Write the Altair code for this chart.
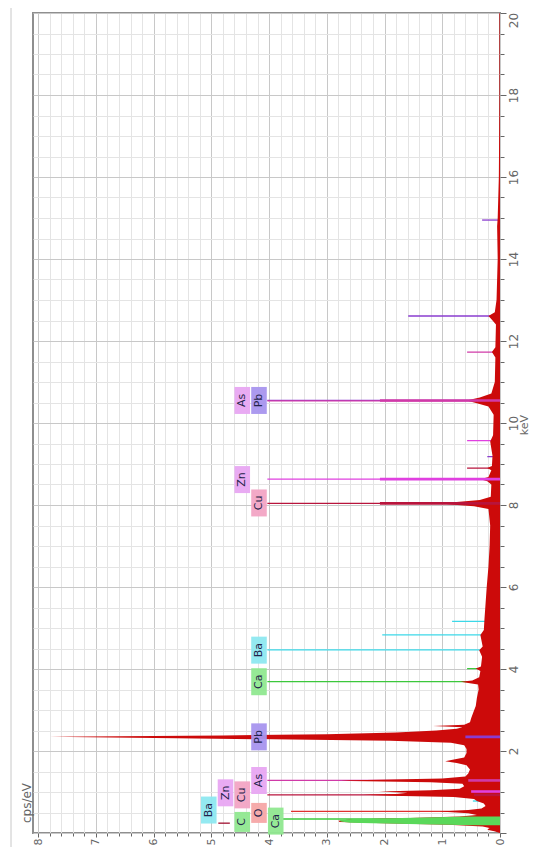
import altair as alt
import pandas as pd

# ---------------- data ----------------
# EDS spectrum (keV -> cps/eV)
spec_kev = [0.00, 0.04, 0.08, 0.12, 0.16, 0.20, 0.24, 0.27, 0.30, 0.33, 0.36, 0.40, 0.44, 0.48,
            0.525, 0.56, 0.60, 0.66, 0.72, 0.78, 0.83, 0.88, 0.91, 0.93, 0.95, 0.98, 1.01, 1.04,
            1.08, 1.14, 1.20, 1.24, 1.27, 1.28, 1.30, 1.33, 1.38, 1.45, 1.55, 1.65, 1.71, 1.75,
            1.79, 1.84, 1.95, 2.05, 2.14, 2.20, 2.25, 2.28, 2.31, 2.335, 2.345, 2.36, 2.38, 2.41,
            2.45, 2.50, 2.54, 2.58, 2.61, 2.64, 2.70, 2.80, 2.95, 3.10, 3.30, 3.50, 3.62, 3.66,
            3.69, 3.72, 3.80, 3.95, 4.01, 4.06, 4.30, 4.46, 4.55, 4.83, 4.95, 5.20, 5.60, 6.00,
            6.50, 7.00, 7.50, 7.90, 7.97, 8.01, 8.04, 8.07, 8.12, 8.20, 8.50, 8.58, 8.63, 8.68,
            8.85, 8.90, 8.95, 9.20, 9.55, 9.70, 10.20, 10.40, 10.48, 10.55, 10.62, 10.72, 11.00,
            11.60, 11.73, 11.85, 12.40, 12.52, 12.61, 12.70, 13.00, 13.50, 14.00, 14.80, 15.00,
            16.00, 18.00, 20.00]
spec_cps = [0.00, 0.10, 0.22, 0.18, 0.30, 0.90, 2.00, 2.78, 2.80, 2.60, 1.70, 0.70, 0.40, 0.55,
            1.05, 0.55, 0.32, 0.25, 0.28, 0.40, 0.45, 0.80, 1.90, 2.37, 1.80, 1.60, 2.10, 1.20,
            0.70, 0.62, 0.65, 1.20, 2.60, 2.75, 2.10, 1.00, 0.60, 0.55, 0.52, 0.58, 0.75, 0.95,
            0.80, 0.62, 0.58, 0.58, 0.62, 0.85, 1.90, 3.60, 5.60, 7.10, 7.80, 6.60, 4.80, 3.00,
            1.80, 1.10, 0.75, 0.65, 1.16, 0.62, 0.52, 0.50, 0.46, 0.42, 0.40, 0.37, 0.38, 0.55,
            0.68, 0.48, 0.36, 0.34, 0.42, 0.33, 0.31, 0.36, 0.30, 0.34, 0.28, 0.27, 0.25, 0.23,
            0.20, 0.18, 0.17, 0.20, 0.45, 0.85, 1.05, 0.80, 0.35, 0.16, 0.15, 0.22, 0.34, 0.20,
            0.15, 0.22, 0.14, 0.13, 0.17, 0.12, 0.11, 0.20, 0.40, 0.58, 0.35, 0.15, 0.09,
            0.08, 0.14, 0.08, 0.07, 0.14, 0.20, 0.09, 0.06, 0.05, 0.04, 0.05, 0.04,
            0.02, 0.01, 0.01]

# C / Ca low-energy peak (green fill)
cca_kev = [0.19, 0.22, 0.25, 0.28, 0.31, 0.34, 0.37, 0.40]
cca_cps = [0.50, 1.60, 2.60, 2.76, 2.78, 2.55, 1.50, 0.55]

# element line markers (thin)
line_el = ["Pb", "As", "Zn", "Cu", "Ba", "Ca", "Pb", "As", "Cu", "O", "Ca",
           "Pb", "Pb", "As", "Zn", "Pb", "Cu", "Ba", "Ba", "Ca", "Ba", "Cu"]
line_kev = [10.55, 10.54, 8.63, 8.04, 4.465, 3.69, 2.345, 1.282, 0.93, 0.525, 0.341,
            14.95, 12.61, 11.73, 9.57, 9.18, 8.90, 5.16, 4.83, 4.01, 0.78, 0.24]
line_top = [4.03, 4.03, 4.03, 4.03, 4.03, 4.03, 4.03, 4.03, 4.03, 3.62, 3.76,
            0.31, 1.59, 0.57, 0.57, 0.22, 0.57, 0.83, 2.04, 0.57, 0.47, 4.88]
line_base = [0, 0, 0, 0, 0, 0, 0, 0, 0, 0, 0,
             0, 0, 0, 0, 0, 0, 0, 0, 0, 0, 4.68]

# element peak overlays (thick)
peak_el = ["As", "Zn", "Cu", "Pb", "As", "Zn", "Cu"]
peak_kev = [10.55, 8.63, 8.04, 2.345, 1.282, 1.012, 0.93]
peak_top = [2.08, 2.08, 2.08, 0.60, 0.55, 0.50, 0.45]

# element labels
lab_text = ["Pb", "As", "Zn", "Cu", "Ba", "Ca", "Pb", "As", "Cu", "Zn", "O", "Ba", "C", "Ca"]
lab_kev = [10.55, 10.55, 8.62, 8.05, 4.46, 3.69, 2.345, 1.28, 0.93, 0.98, 0.49, 0.56, 0.27, 0.29]
lab_level = [0, 1, 1, 0, 0, 0, 0, 0, 1, 2, 0, 3, 1, -1]

# ---------------- styles ----------------
LINE_COL = {"Pb": "#8a3ccf", "As": "#d03aa8", "Zn": "#e040e0", "Cu": "#b8143c",
            "Ba": "#3cd8e8", "Ca": "#3cc83c", "O": "#e03030", "C": "#30b030"}
BOX_COL = {"Pb": "#a895ee", "As": "#e8a6f2", "Zn": "#e8a6f2", "Cu": "#f2a4c4",
           "Ba": "#8ee8f0", "Ca": "#90e890", "C": "#90e890", "O": "#f6a6a6"}

spec = pd.DataFrame({"kev": spec_kev, "cps": spec_cps})
cca = pd.DataFrame({"kev": cca_kev, "cps": cca_cps})
lines = pd.DataFrame({"el": line_el, "kev": line_kev, "top": line_top, "base": line_base})
lines["col"] = lines["el"].map(LINE_COL)
lines.loc[lines.index[-1], "col"] = "#a01030"
peaks = pd.DataFrame({"el": peak_el, "kev": peak_kev, "top": peak_top, "base": 0.0})
peaks["col"] = peaks["el"].map(LINE_COL)
lab = pd.DataFrame({"text": lab_text, "kev": lab_kev, "level": lab_level})
lab["xr"] = 4.04 + 0.29 * lab["level"]
lab["xl"] = lab["xr"] + 0.27
lab["xc"] = (lab["xr"] + lab["xl"]) / 2
lab["half"] = lab["text"].str.len().map({1: 10 / 41, 2: 13.5 / 41})
lab["y1"] = lab["kev"] - lab["half"]
lab["y2"] = lab["kev"] + lab["half"]
lab["fill"] = lab["text"].map(BOX_COL)

XS = alt.Scale(domain=[0, 8.09], reverse=True, nice=False, zero=True)
YS = alt.Scale(domain=[0, 20], nice=False, zero=True)

cps_ticks = [round(0.2 * i, 1) for i in range(41)]
kev_ticks = [0.5 * i for i in range(41)]
MAJ_X = "abs(datum.value - round(datum.value)) < 0.001"
MAJ_Y = "abs(datum.value / 2 - round(datum.value / 2)) < 0.001"

XAX = alt.Axis(
    orient="bottom", values=cps_ticks, title=None, grid=True, domain=False,
    gridColor={"condition": {"test": MAJ_X, "value": "#c8c8c8"}, "value": "#e4e4e4"},
    tickSize={"condition": {"test": MAJ_X, "value": 4}, "value": 3},
    tickColor="#666", labelExpr=f"({MAJ_X}) ? format(datum.value, 'd') : ''",
    labelAngle=270, labelAlign="right", labelBaseline="middle", labelPadding=1,
    labelFontSize=11, labelColor="#666", labelFont="DejaVu Sans", labelOverlap=False,
)
YAX = alt.Axis(
    orient="right", values=kev_ticks, title=None, grid=True, domain=False,
    gridColor={"condition": {"test": MAJ_Y, "value": "#c8c8c8"}, "value": "#e4e4e4"},
    tickSize={"condition": {"test": MAJ_Y, "value": 6}, "value": 4},
    tickColor="#666",
    labelExpr=f"({MAJ_Y}) && datum.value > 0 ? format(datum.value, 'd') : ''",
    labelOffset={"condition": {"test": "datum.value > 19.9", "value": 7}, "value": 0},
    labelAngle=270, labelAlign="center", labelBaseline="top", labelPadding=2,
    labelFontSize=12, labelColor="#666", labelFont="DejaVu Sans", labelOverlap=False,
)


def X(f):
    return alt.X(f, scale=XS, axis=XAX)


def Y(f):
    return alt.Y(f, scale=YS, axis=YAX)


thin = alt.Chart(lines).mark_rule(strokeWidth=1.3).encode(
    x=X("top:Q"), x2="base:Q", y=Y("kev:Q"), color=alt.Color("col:N", scale=None))

area = alt.Chart(spec).mark_area(orient="horizontal", color="#cc0a0a").encode(
    x=X("cps:Q"), y=Y("kev:Q"))

green = alt.Chart(cca).mark_area(orient="horizontal", color="#5ad85a").encode(
    x=X("cps:Q"), y=Y("kev:Q"))

thick = alt.Chart(peaks).mark_rule(strokeWidth=2.6).encode(
    x=X("top:Q"), x2="base:Q", y=Y("kev:Q"), color=alt.Color("col:N", scale=None))

boxes = alt.Chart(lab).mark_rect(opacity=0.95).encode(
    x=X("xr:Q"), x2="xl:Q", y=Y("y1:Q"), y2="y2:Q",
    color=alt.Color("fill:N", scale=None))

texts = alt.Chart(lab).mark_text(angle=270, fontSize=11, font="DejaVu Sans",
                                 color="#23234a", align="center", baseline="middle").encode(
    x=X("xc:Q"), y=Y("kev:Q"), text="text:N")

cps_title = alt.Chart(pd.DataFrame({"t": ["cps/eV"]})).mark_text(
    angle=270, fontSize=12, font="DejaVu Sans", color="#666", align="center", baseline="middle"
).encode(x=alt.value(-6), y=alt.value(790), text="t:N")

kev_title = alt.Chart(pd.DataFrame({"t": ["keV"]})).mark_text(
    angle=270, fontSize=11, font="DejaVu Sans", color="#666", align="center", baseline="middle"
).encode(x=alt.value(492), y=alt.value(412), text="t:N")

edge = alt.Chart(pd.DataFrame({"t": [0]})).mark_rule(color="#c8c8c8", strokeWidth=1).encode(
    x=alt.value(-22), y=alt.value(-6), y2=alt.value(834))

chart = alt.layer(thin, area, green, thick, boxes, texts, cps_title, kev_title, edge).properties(
    width=467, height=820,
    autosize=alt.AutoSizeParams(type="none"),
    padding={"left": 25, "top": 5, "right": 32, "bottom": 15},
).configure_view(stroke="#8f8f8f", strokeWidth=2)

chart.save("out.html", embed_options={"renderer": "svg", "actions": False})
